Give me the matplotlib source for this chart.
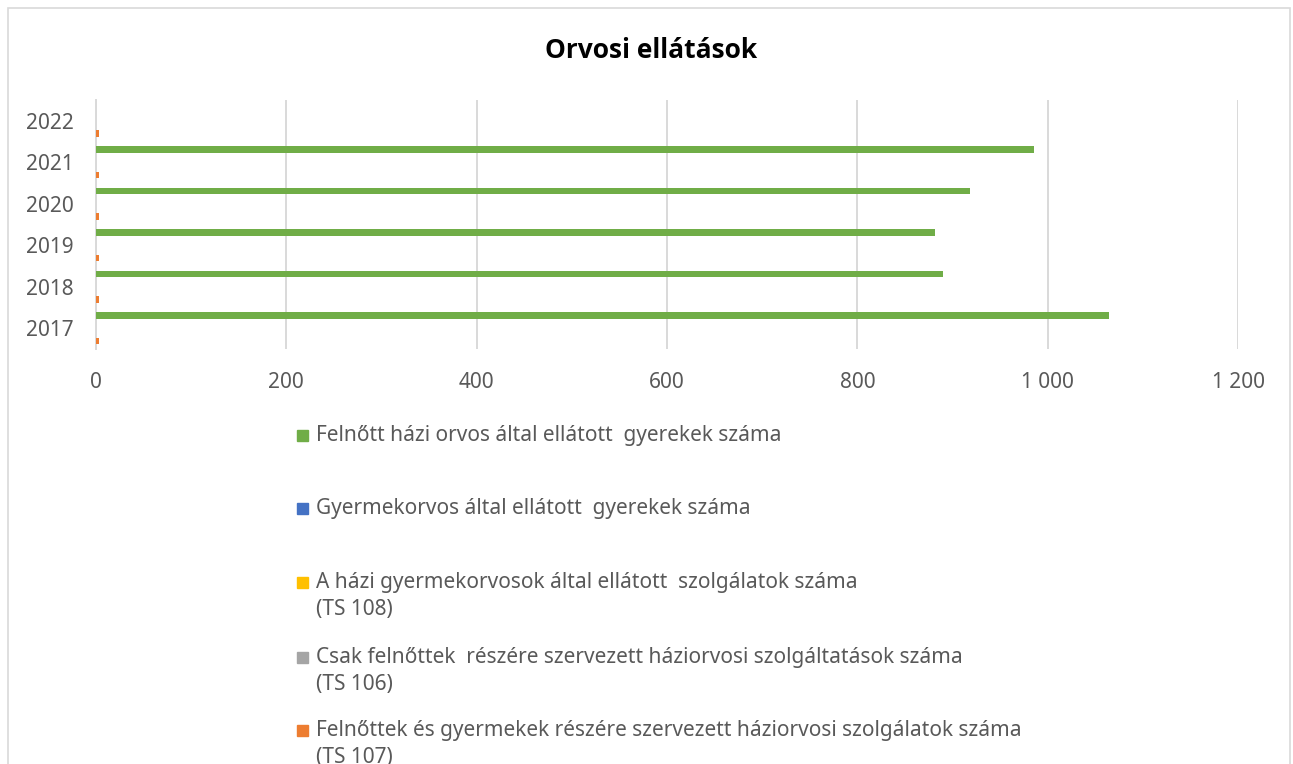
import numpy as np
import matplotlib
matplotlib.use('Agg')
import matplotlib.pyplot as plt
from matplotlib.patches import Rectangle
from matplotlib.ticker import FuncFormatter

# Data
years = ['2017', '2018', '2019', '2020', '2021', '2022']
felnott_gyerek = [1064, 890, 882, 918, 986, np.nan]   # green
gyermekorvos = [0, 0, 0, 0, 0, 0]                     # blue
ts108 = [0, 0, 0, 0, 0, 0]                            # yellow
ts106 = [0, 0, 0, 0, 0, 0]                            # gray
ts107 = [3, 3, 3, 3, 3, 3]                            # orange

# series drawn from the bottom of each category upwards
series = [
    (ts107, '#ED7D31', 'Felnőttek és gyermekek részére szervezett háziorvosi szolgálatok száma\n(TS 107)'),
    (ts106, '#A5A5A5', 'Csak felnőttek  részére szervezett háziorvosi szolgáltatások száma\n(TS 106)'),
    (ts108, '#FFC000', 'A házi gyermekorvosok által ellátott  szolgálatok száma\n(TS 108)'),
    (gyermekorvos, '#4472C4', 'Gyermekorvos által ellátott  gyerekek száma'),
    (felnott_gyerek, '#70AD47', 'Felnőtt házi orvos által ellátott  gyerekek száma'),
]

text_color = '#595959'
grid_color = '#D9D9D9'

fig = plt.figure(figsize=(12.93, 7.64), dpi=100)
W, H = 1293, 764

# chart frame
fig.patches.append(Rectangle((8 / W, -0.1), (1290 - 8) / W, 1.1 - 8 / H,
                             transform=fig.transFigure, fill=False,
                             edgecolor='#D9D9D9', linewidth=1.2))

ax = fig.add_axes([96 / W, 1 - 349 / H, (1238 - 96) / W, (349 - 100) / H])

y = np.arange(len(years))
step = 0.153
for i, (vals, color, label) in enumerate(series):
    ax.barh(y + (i - 2) * step, vals, height=step, color=color, zorder=3)

ax.set_xlim(0, 1200)
ax.set_ylim(-0.5, len(years) - 0.5)
ax.set_xticks(np.arange(0, 1201, 200))
ax.xaxis.set_major_formatter(FuncFormatter(lambda v, p: f'{v:,.0f}'.replace(',', ' ')))
ax.set_yticks(y)
ax.set_yticklabels(years)

ax.grid(axis='x', color=grid_color, linewidth=1.4, zorder=0)
ax.tick_params(axis='both', length=0, labelsize=15, labelcolor=text_color)
ax.tick_params(axis='x', pad=16.5)
ax.tick_params(axis='y', pad=16)
for lbl in ax.get_xticklabels() + ax.get_yticklabels():
    lbl.set_fontfamily('Noto Sans')
for s in ['top', 'right', 'bottom']:
    ax.spines[s].set_visible(False)
ax.spines['left'].set_color(grid_color)
ax.spines['left'].set_linewidth(1.4)

fig.text(651 / W, 1 - 50 / H, 'Orvosi ellátások', ha='center', va='center',
         fontsize=19, fontweight='bold', family='Open Sans', color='black')

# legend, listed top to bottom in reverse series order
leg_y = [435, 508, 582, 657, 730]
for (vals, color, label), yy in zip(series[::-1], leg_y):
    fig.patches.append(Rectangle((297 / W, 1 - (yy + 6) / H), 11 / W, 11 / H,
                                 transform=fig.transFigure, color=color))
    fig.text(316 / W, 1 - (yy - 10) / H, label, ha='left', va='top',
             fontsize=15, family='Noto Sans', color=text_color, linespacing=1.35)

fig.savefig('out.png', dpi=100)
